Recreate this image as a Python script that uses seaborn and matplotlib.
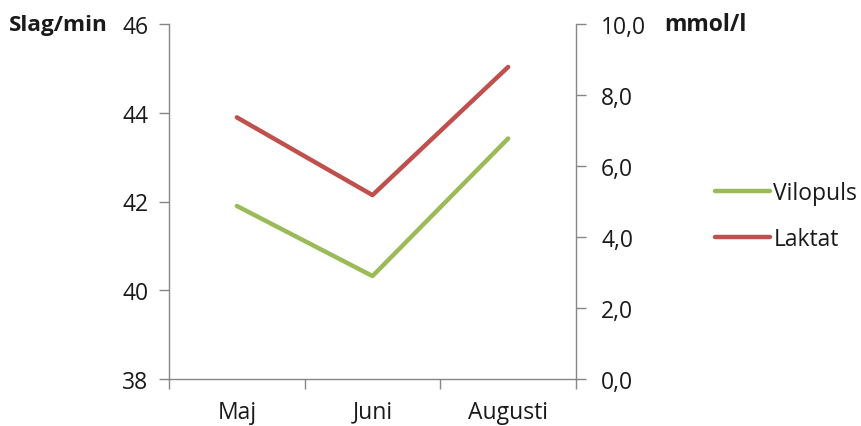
import matplotlib
matplotlib.use("Agg")
import matplotlib.pyplot as plt
from matplotlib.ticker import FixedLocator, FuncFormatter
import seaborn as sns
import pandas as pd

# Monthly values
months = ["Maj", "Juni", "Augusti"]
vilopuls = [41.9, 40.32, 43.42]   # Slag/min, left axis
laktat = [7.37, 5.18, 8.79]       # mmol/l, right axis

sns.set_style("white")
plt.rcParams["font.family"] = ["Open Sans", "DejaVu Sans"]

FS = 16.5
AXIS_COL = "#868686"
TXT_COL = "#1a1a1a"
GREEN = "#9BBB59"
RED = "#C0504D"

df = pd.DataFrame({"x": range(len(months)), "Vilopuls": vilopuls, "Laktat": laktat})

fig = plt.figure(figsize=(8.61, 4.27), dpi=100)
ax = fig.add_axes([169 / 861, 1 - 380 / 427, (576 - 169) / 861, (380 - 25) / 427])
ax2 = ax.twinx()

sns.lineplot(data=df, x="x", y="Vilopuls", ax=ax, color=GREEN, linewidth=3.2,
             label="Vilopuls", legend=False)
sns.lineplot(data=df, x="x", y="Laktat", ax=ax2, color=RED, linewidth=3.2,
             label="Laktat", legend=False)
for ln in ax.lines + ax2.lines:
    ln.set_solid_capstyle("round")

ax.set_xlim(-0.5, len(months) - 0.5)
ax.set_ylim(38, 46)
ax2.set_ylim(0, 10)

# category labels centred, tick marks at category boundaries
ax.xaxis.set_major_locator(FixedLocator(range(len(months))))
ax.set_xticklabels(months)
ax.xaxis.set_minor_locator(FixedLocator([i - 0.5 for i in range(len(months) + 1)]))
ax.tick_params(axis="x", which="major", length=0, pad=15, labelsize=FS, labelcolor=TXT_COL)
ax.tick_params(axis="x", which="minor", bottom=True, length=7, width=1, color=AXIS_COL, direction="out")

ax.set_yticks([38, 40, 42, 44, 46])
ax.tick_params(axis="y", left=True, length=7, width=1, color=AXIS_COL, direction="out",
               pad=8, labelsize=FS, labelcolor=TXT_COL)

ax2.set_yticks([0, 2, 4, 6, 8, 10])
ax2.yaxis.set_major_formatter(FuncFormatter(lambda v, p: f"{v:.1f}".replace(".", ",")))
ax2.tick_params(axis="y", right=True, length=7, width=1, color=AXIS_COL, direction="out",
                pad=11, labelsize=FS, labelcolor=TXT_COL)

ax.set_xlabel("")
ax.set_ylabel("")
ax2.set_ylabel("")

for a in (ax, ax2):
    a.spines["top"].set_visible(False)
    a.grid(False)
ax.spines["right"].set_visible(False)
ax2.spines["left"].set_visible(False)
ax2.spines["bottom"].set_visible(False)
ax.spines["left"].set_color(AXIS_COL)
ax.spines["bottom"].set_color(AXIS_COL)
ax2.spines["right"].set_color(AXIS_COL)
for s in ("left", "bottom"):
    ax.spines[s].set_linewidth(1)
ax2.spines["right"].set_linewidth(1)

# axis unit titles
fig.text(9 / 861, 1 - 25 / 427, "Slag/min", fontsize=16.2, fontweight="bold",
         color=TXT_COL, ha="left", va="center")
fig.text(664 / 861, 1 - 25 / 427, "mmol/l", fontsize=FS, fontweight="bold",
         color=TXT_COL, ha="left", va="center")

handles = ax.lines + ax2.lines
fig.legend(handles, ["Vilopuls", "Laktat"], loc="center left",
           bbox_to_anchor=(715 / 861, 1 - 217 / 427), frameon=False,
           fontsize=FS, handlelength=2.4, handletextpad=0.15, labelspacing=0.95,
           borderpad=0, borderaxespad=0, labelcolor=TXT_COL)

fig.savefig("out.png", dpi=100)
